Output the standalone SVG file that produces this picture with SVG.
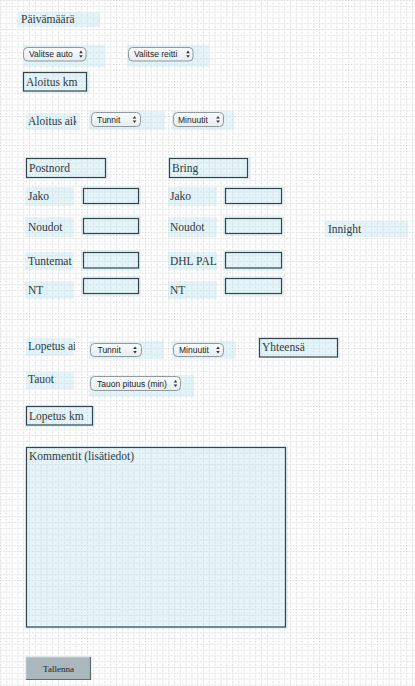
<svg xmlns="http://www.w3.org/2000/svg" width="415" height="686" viewBox="0 0 415 686">
<style>
.lbl{font-family:"Liberation Serif","DejaVu Serif",serif;font-size:11.5px;fill:#2c3a41}
.sel{font-family:"Liberation Sans","DejaVu Sans",sans-serif;font-size:8.5px;fill:#222}
.bg{fill:#bfe3f1;fill-opacity:0.4}
.box{fill:none;stroke:#34454d;stroke-width:1.2}
.btn{fill:url(#selg);stroke:#8f999e;stroke-width:1}
.arr{fill:#333}
.gl{stroke:#d4d4d4;stroke-width:1;stroke-dasharray:1.4 1.5}
</style>
<defs>
<pattern id="grid" x="0" y="0" width="5.8" height="5.8" patternUnits="userSpaceOnUse">
<line class="gl" x1="0.5" y1="0" x2="0.5" y2="5.8"/>
<line class="gl" x1="0" y1="0.5" x2="5.8" y2="0.5"/>
</pattern>
<linearGradient id="selg" x1="0" y1="0" x2="0" y2="1">
<stop offset="0" stop-color="#f9fbfc"/>
<stop offset="1" stop-color="#e6edf0"/>
</linearGradient>
<g id="arrows"><path class="arr" d="M-1.8 -1 L1.8 -1 L0 -3.6 Z M-1.8 1 L1.8 1 L0 3.6 Z"/></g>
<clipPath id="c1"><rect x="26" y="110" width="50.3" height="22"/></clipPath>
<clipPath id="c2"><rect x="25" y="250" width="49" height="22"/></clipPath>
<clipPath id="c3"><rect x="168" y="250" width="49" height="22"/></clipPath>
<clipPath id="c4"><rect x="26" y="336" width="49" height="22"/></clipPath>
</defs>
<rect width="415" height="686" fill="#ffffff"/>
<rect width="415" height="686" fill="url(#grid)"/>

<g id="paivamaara"><rect class="bg" x="18" y="12" width="82" height="15"/><text class="lbl" x="21" y="23">Päivämäärä</text></g>

<g id="valitse-auto"><rect class="bg" x="23" y="45" width="82" height="22"/><rect class="btn" x="23.5" y="47.5" width="62.5" height="13.5" rx="4"/><text class="sel" x="29" y="57.3">Valitse auto</text><use href="#arrows" x="81" y="54.2"/></g>
<g id="valitse-reitti"><rect class="bg" x="127" y="45" width="82" height="22"/><rect class="btn" x="128.5" y="47.5" width="64.5" height="13.5" rx="4"/><text class="sel" x="134" y="57.3">Valitse reitti</text><use href="#arrows" x="188" y="54.2"/></g>

<g id="aloitus-km"><rect class="bg" x="22" y="71" width="68" height="22"/><rect class="box" x="23.5" y="72.5" width="63" height="18.5"/><text class="lbl" x="26" y="85.5">Aloitus km</text></g>

<g id="aloitus-aika"><rect class="bg" x="26" y="113" width="54" height="17"/><text class="lbl" x="28" y="125" clip-path="url(#c1)">Aloitus aika</text></g>
<g id="aloitus-tunnit"><rect class="bg" x="89" y="111" width="76" height="19"/><rect class="btn" x="91.5" y="112.5" width="49" height="14" rx="4"/><text class="sel" x="97" y="122.5">Tunnit</text><use href="#arrows" x="134.5" y="119.5"/></g>
<g id="aloitus-minuutit"><rect class="bg" x="172" y="111" width="62" height="19"/><rect class="btn" x="173.5" y="112.5" width="50" height="14" rx="4"/><text class="sel" x="178" y="122.5">Minuutit</text><use href="#arrows" x="218" y="119.5"/></g>

<g id="postnord"><rect class="bg" x="25" y="157" width="83" height="22"/><rect class="box" x="26.5" y="158.5" width="79" height="19"/><text class="lbl" x="29" y="171.5">Postnord</text></g>
<g id="bring"><rect class="bg" x="168" y="157" width="83" height="22"/><rect class="box" x="169.5" y="158.5" width="78" height="19"/><text class="lbl" x="172" y="171.5">Bring</text></g>

<g id="pn-jako"><rect class="bg" x="25" y="187" width="49" height="19"/><text class="lbl" x="28" y="200">Jako</text><rect class="bg" x="81" y="186" width="60" height="20"/><rect class="box" x="83.5" y="188.5" width="55" height="15"/></g>
<g id="pn-noudot"><rect class="bg" x="25" y="217" width="49" height="20"/><text class="lbl" x="28" y="231">Noudot</text><rect class="bg" x="81" y="216" width="60" height="20"/><rect class="box" x="83.5" y="218.5" width="55" height="15"/></g>
<g id="pn-tuntemat"><rect class="bg" x="25" y="252" width="49" height="18"/><text class="lbl" x="28" y="265" clip-path="url(#c2)">Tuntemat</text><rect class="bg" x="81" y="250" width="60" height="21"/><rect class="box" x="83.5" y="252.5" width="55" height="15.5"/></g>
<g id="pn-nt"><rect class="bg" x="25" y="281" width="49" height="18"/><text class="lbl" x="28" y="294">NT</text><rect class="bg" x="81" y="276" width="60" height="20"/><rect class="box" x="83.5" y="278.5" width="55" height="15"/></g>

<g id="br-jako"><rect class="bg" x="168" y="187" width="49" height="19"/><text class="lbl" x="170" y="200">Jako</text><rect class="bg" x="223" y="186" width="61" height="20"/><rect class="box" x="225.5" y="188.5" width="56" height="15"/></g>
<g id="br-noudot"><rect class="bg" x="168" y="217" width="49" height="20"/><text class="lbl" x="170" y="231">Noudot</text><rect class="bg" x="223" y="216" width="61" height="20"/><rect class="box" x="225.5" y="218.5" width="56" height="15"/></g>
<g id="br-dhl"><rect class="bg" x="168" y="252" width="49" height="18"/><text class="lbl" x="170" y="265" clip-path="url(#c3)">DHL PAL</text><rect class="bg" x="223" y="250" width="61" height="21"/><rect class="box" x="225.5" y="252.5" width="56" height="15.5"/></g>
<g id="br-nt"><rect class="bg" x="168" y="281" width="49" height="18"/><text class="lbl" x="170" y="294">NT</text><rect class="bg" x="223" y="276" width="61" height="20"/><rect class="box" x="225.5" y="278.5" width="56" height="15"/></g>

<g id="innight"><rect class="bg" x="325" y="221" width="83" height="16"/><text class="lbl" x="328" y="233">Innight</text></g>

<g id="lopetus-aika"><rect class="bg" x="26" y="338" width="48" height="18"/><text class="lbl" x="28" y="350" clip-path="url(#c4)">Lopetus aika</text></g>
<g id="lopetus-tunnit"><rect class="bg" x="89" y="341" width="75" height="18"/><rect class="btn" x="90.5" y="343.5" width="51" height="13" rx="4"/><text class="sel" x="97.5" y="353">Tunnit</text><use href="#arrows" x="135" y="350"/></g>
<g id="lopetus-minuutit"><rect class="bg" x="172" y="341" width="64" height="18"/><rect class="btn" x="173.5" y="343.5" width="50" height="13" rx="4"/><text class="sel" x="179" y="353">Minuutit</text><use href="#arrows" x="218" y="350"/></g>
<g id="yhteensa"><rect class="bg" x="258" y="337" width="82" height="21"/><rect class="box" x="259.5" y="338.5" width="78" height="18.5"/><text class="lbl" x="262" y="351">Yhteensä</text></g>

<g id="tauot"><rect class="bg" x="26" y="372" width="48" height="17"/><text class="lbl" x="28" y="383">Tauot</text></g>
<g id="tauon-pituus"><rect class="bg" x="89" y="375" width="105" height="22"/><rect class="btn" x="90.5" y="376.5" width="90" height="14" rx="4"/><text class="sel" x="97" y="386.5">Tauon pituus (min)</text><use href="#arrows" x="175.5" y="383.5"/></g>

<g id="lopetus-km"><rect class="bg" x="25" y="405" width="70" height="22"/><rect class="box" x="26.5" y="406.5" width="66" height="18.5"/><text class="lbl" x="29" y="419.5">Lopetus km</text></g>

<g id="kommentit"><rect class="bg" x="25" y="446" width="263" height="183"/><rect class="box" x="26.5" y="447.5" width="259" height="179.5"/><text class="lbl" x="29" y="460">Kommentit (lisätiedot)</text></g>

<g id="tallenna"><rect x="26" y="657" width="65" height="23" fill="#aab7bc"/><path d="M26 680 L26 657 L91 657" fill="none" stroke="#c9d2d6" stroke-width="1"/><path d="M26 679.5 L90.5 679.5 L90.5 657" fill="none" stroke="#5d6a70" stroke-width="1.2"/><text x="58.5" y="671.5" text-anchor="middle" style="font-family:'Liberation Serif',serif;font-size:9px;fill:#222">Tallenna</text></g>
</svg>
